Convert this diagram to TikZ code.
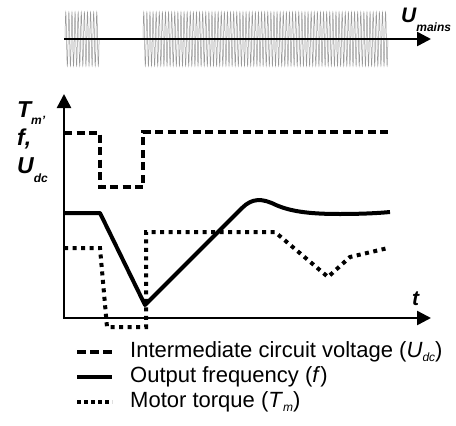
\documentclass[tikz,border=0pt]{standalone}
\usepackage{fontspec}
\setmainfont{Liberation Sans}
\usetikzlibrary{arrows.meta}
% low subscript used in the labels
\newcommand{\lowsub}[2][5pt]{\raisebox{-#1}{\fontsize{12}{12}\selectfont #2}}

\begin{document}
\begin{tikzpicture}[line join=miter,>={Triangle[length=14pt,width=14pt]},x=1pt,y=-1pt,
    axisline/.style={line width=2.5pt},
    mainswave/.style={line width=0.5pt,black!40},
    udcline/.style={line width=4pt,dash pattern=on 8pt off 4.5pt},
    fline/.style={line width=4pt,line join=round},
    tmline/.style={line width=4pt,dash pattern=on 4pt off 4.5pt},
    axislabel/.style={font=\fontsize{21}{24}\selectfont\bfseries\itshape,inner sep=0pt,anchor=base west},
    ylabel/.style={axislabel,font=\fontsize{23}{26}\selectfont\bfseries\itshape},
    legendtext/.style={font=\fontsize{22}{26}\selectfont,inner sep=0pt,anchor=west}]
    \useasboundingbox (0,0) rectangle (456,426);

    % mains voltage
    \draw [mainswave] (65,39) \foreach \i in {1,...,11} {sin ++(0.775,-27) cos ++(0.775,27) sin ++(0.775,27) cos ++(0.775,-27)};
    \draw [mainswave] (143,39) \foreach \i in {1,...,79} {sin ++(0.775,-27) cos ++(0.775,27) sin ++(0.775,27) cos ++(0.775,-27)};
    \coordinate (mo) at (64,39);
    \coordinate (mtip) at (431,39);
    \draw [->,axisline] (mo) -- (mtip);
    \node [axislabel] (umains) at (401,22) {U\lowsub[9pt]{mains}};

    % axes
    \coordinate (o) at (64,318);
    \coordinate (ytip) at (64,94);
    \coordinate (xtip) at (431,318);
    \draw [->,axisline] (o) -- (ytip);
    \draw [->,axisline] ([xshift=-1.25pt]o) -- (xtip);
    \node [ylabel] (tmlabel) at (17,117) {T\lowsub[7pt]{m’}};
    \node [ylabel] (flabel) at (17,145) {f,};
    \node [ylabel] (udclabel) at (17,173) {U\lowsub[9pt]{dc}};
    \node [axislabel] (tlabel) at (412,305) {t};

    % intermediate circuit voltage
    \draw [udcline] (64,133) -- (100,133) -- (100,187) -- (143,187) -- (143,132) -- (389,132);

    % output frequency
    \draw [fline] (64,213) -- (100,213) -- (145,305) -- (242,208)
        .. controls (252,198) and (262,198) .. (276,205)
        .. controls (292,212) and (312,214) .. (340,214)
        .. controls (362,214) and (380,213) .. (390,212);

    % motor torque
    \draw [tmline] (64,248) -- (100,248) -- (107,327) -- (146,327) -- (146,232)
        -- (275,232) -- (328,277) -- (350,257) -- (388,248);

    % legend
    \node [legendtext] (lgudc) at (130,352) {Intermediate circuit voltage (\textit{U}\lowsub[4pt]{\itshape dc})};
    \node [legendtext] (lgf) at (130,377) {Output frequency (\textit{f})};
    \node [legendtext] (lgtm) at (130,402) {Motor torque (\textit{T}\lowsub[4pt]{\itshape m})};
    \draw [udcline,dash pattern=on 9pt off 4pt] ([xshift=-53pt]lgudc.west) -- ([xshift=-18pt]lgudc.west);
    \draw [fline] ([xshift=-53pt]lgf.west) -- ([xshift=-18pt]lgf.west);
    \draw [tmline,dash pattern=on 4pt off 3pt] ([xshift=-53pt]lgtm.west) -- ([xshift=-18pt]lgtm.west);
\end{tikzpicture}
\end{document}
